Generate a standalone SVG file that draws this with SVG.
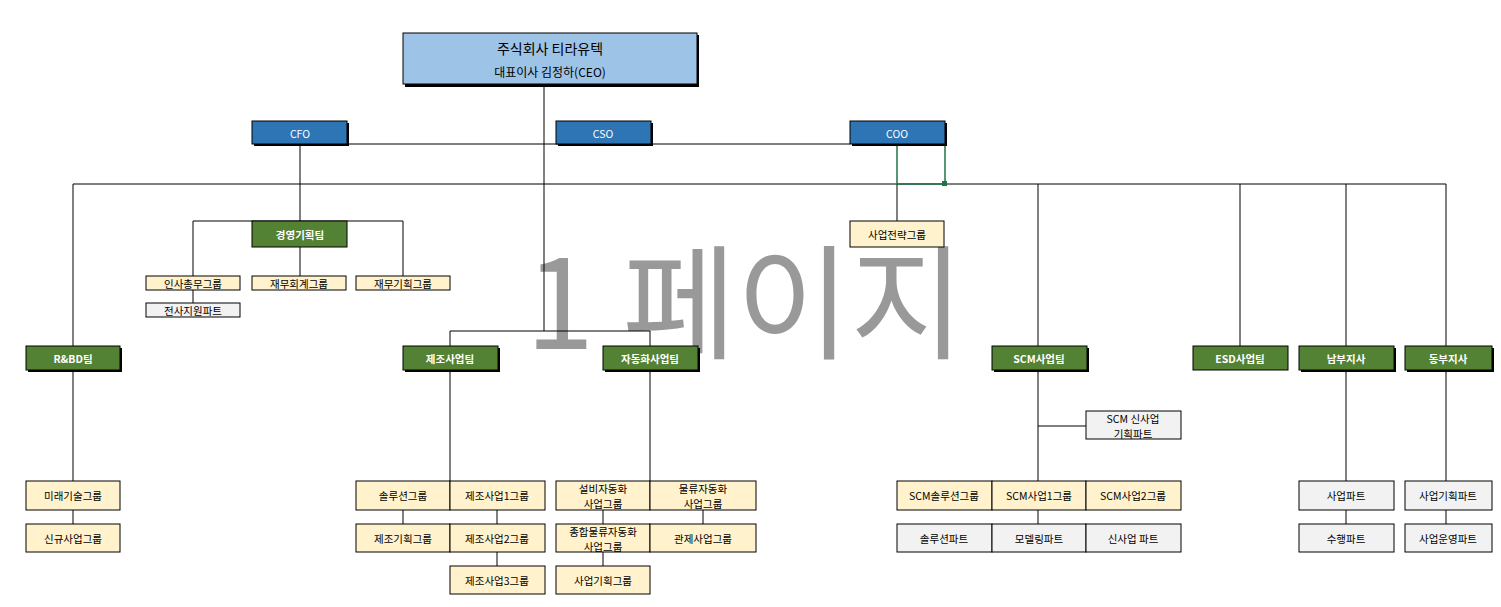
<svg xmlns="http://www.w3.org/2000/svg" width="1501" height="607" viewBox="0 0 1501 607">
<style>
text{font-family:"Noto Sans CJK KR","Noto Sans",sans-serif;text-anchor:middle;dominant-baseline:central}
.sh{fill:#000}
.ceo{fill:#9dc3e6;stroke:#000;stroke-width:1}
.bl{fill:#2e75b6;stroke:#000;stroke-width:1}
.gr{fill:#548235;stroke:#000;stroke-width:1}
.ye{fill:#fff2cc;stroke:#000;stroke-width:1}
.gy{fill:#f2f2f2;stroke:#000;stroke-width:1}
.w{fill:#fff;font-size:10.5px;font-weight:bold}
.k{fill:#000;font-size:10.5px}
.c line{stroke:#000;stroke-width:1}
</style>
<text x="745" y="295" style="font-size:124px;fill:#999999;font-family:'Noto Sans CJK KR',sans-serif">1 페이지</text>
<g class="c" id="connectors">
<line x1="544" y1="85" x2="544" y2="331"/>
<line x1="300" y1="144" x2="850" y2="144"/>
<line x1="300" y1="144" x2="300" y2="221"/>
<line x1="73" y1="184" x2="1446" y2="184"/>
<line x1="897" y1="184" x2="897" y2="221"/>
<line x1="193" y1="221" x2="403" y2="221"/>
<line x1="193" y1="221" x2="193" y2="276"/>
<line x1="403" y1="221" x2="403" y2="276"/>
<line x1="300" y1="247" x2="300" y2="276"/>
<line x1="193" y1="290" x2="193" y2="303"/>
<line x1="73" y1="184" x2="73" y2="346"/>
<line x1="1038" y1="184" x2="1038" y2="346"/>
<line x1="1240" y1="184" x2="1240" y2="346"/>
<line x1="1346" y1="184" x2="1346" y2="346"/>
<line x1="1446" y1="184" x2="1446" y2="346"/>
<line x1="450" y1="331" x2="650" y2="331"/>
<line x1="450" y1="331" x2="450" y2="346"/>
<line x1="650" y1="331" x2="650" y2="346"/>
<line x1="73" y1="370" x2="73" y2="481"/>
<line x1="73" y1="510" x2="73" y2="524"/>
<line x1="450" y1="370" x2="450" y2="481"/>
<line x1="403" y1="510" x2="403" y2="524"/>
<line x1="497" y1="510" x2="497" y2="524"/>
<line x1="497" y1="552" x2="497" y2="566"/>
<line x1="650" y1="370" x2="650" y2="481"/>
<line x1="603" y1="510" x2="603" y2="524"/>
<line x1="703" y1="510" x2="703" y2="524"/>
<line x1="603" y1="552" x2="603" y2="566"/>
<line x1="1038" y1="370" x2="1038" y2="481"/>
<line x1="1038" y1="426" x2="1086" y2="426"/>
<line x1="1038" y1="510" x2="1038" y2="524"/>
<line x1="1346" y1="370" x2="1346" y2="481"/>
<line x1="1346" y1="510" x2="1346" y2="524"/>
<line x1="1446" y1="370" x2="1446" y2="481"/>
<line x1="1446" y1="510" x2="1446" y2="524"/>
</g>
<rect x="897" y="144" width="48" height="40" fill="none" stroke="#217346" stroke-width="1.5"/>
<rect x="942" y="181" width="5" height="5" fill="#217346"/>
<g id="ceo"><rect class="sh" x="405" y="35" width="294" height="52"/><rect class="ceo" x="403" y="33" width="294" height="51"/><text x="550" y="48" style="font-size:14px">주식회사 티라유텍</text><text x="550" y="71" style="font-size:12px">대표이사 김정하(CEO)</text></g>
<g id="cfo"><rect class="sh" x="254" y="123" width="95" height="23"/><rect class="bl" x="252" y="121" width="95" height="23"/><text class="w" x="300" y="133" style="font-weight:normal">CFO</text></g>
<g id="cso"><rect class="sh" x="558" y="123" width="95" height="23"/><rect class="bl" x="556" y="121" width="95" height="23"/><text class="w" x="603" y="133" style="font-weight:normal">CSO</text></g>
<g id="coo"><rect class="sh" x="852" y="123" width="95" height="23"/><rect class="bl" x="850" y="121" width="95" height="23"/><text class="w" x="897" y="133" style="font-weight:normal">COO</text></g>
<g id="mgmt"><rect class="gr" x="252" y="221" width="95" height="26"/><text class="w" x="300" y="234">경영기획팀</text></g>
<g id="strategy"><rect class="ye" x="850" y="221" width="94" height="26"/><text class="k" x="897" y="234">사업전략그룹</text></g>
<g id="hr"><rect class="ye" x="146" y="276" width="94" height="14"/><text class="k" x="193" y="283">인사총무그룹</text></g>
<g id="acct"><rect class="ye" x="252" y="276" width="94" height="14"/><text class="k" x="299" y="283">재무회계그룹</text></g>
<g id="fin"><rect class="ye" x="356" y="276" width="94" height="14"/><text class="k" x="403" y="283">재무기획그룹</text></g>
<g id="support"><rect class="gy" x="146" y="303" width="94" height="14"/><text class="k" x="193" y="310">전사지원파트</text></g>
<g id="rnd"><rect class="sh" x="28" y="348" width="94" height="24"/><rect class="gr" x="26" y="346" width="94" height="24"/><text class="w" x="73" y="358">R&amp;BD팀</text></g>
<g id="mfg"><rect class="sh" x="405" y="348" width="95" height="24"/><rect class="gr" x="403" y="346" width="95" height="24"/><text class="w" x="450" y="358">제조사업팀</text></g>
<g id="auto"><rect class="sh" x="605" y="348" width="95" height="24"/><rect class="gr" x="603" y="346" width="95" height="24"/><text class="w" x="650" y="358">자동화사업팀</text></g>
<g id="scm"><rect class="sh" x="994" y="348" width="95" height="24"/><rect class="gr" x="992" y="346" width="95" height="24"/><text class="w" x="1039" y="358">SCM사업팀</text></g>
<g id="esd"><rect class="gr" x="1193" y="346" width="95" height="24"/><text class="w" x="1240" y="358">ESD사업팀</text></g>
<g id="south"><rect class="sh" x="1301" y="348" width="95" height="24"/><rect class="gr" x="1299" y="346" width="95" height="24"/><text class="w" x="1346" y="358">남부지사</text></g>
<g id="east"><rect class="sh" x="1407" y="348" width="87" height="24"/><rect class="gr" x="1405" y="346" width="87" height="24"/><text class="w" x="1448" y="358">동부지사</text></g>
<g id="future"><rect class="ye" x="26" y="481" width="94" height="29"/><text class="k" x="73" y="495">미래기술그룹</text></g>
<g id="newbiz"><rect class="ye" x="26" y="524" width="94" height="28"/><text class="k" x="73" y="538">신규사업그룹</text></g>
<g id="sol"><rect class="ye" x="356" y="481" width="94" height="29"/><text class="k" x="403" y="495">솔루션그룹</text></g>
<g id="m1"><rect class="ye" x="450" y="481" width="95" height="29"/><text class="k" x="497" y="495">제조사업1그룹</text></g>
<g id="mplan"><rect class="ye" x="356" y="524" width="94" height="28"/><text class="k" x="403" y="538">제조기획그룹</text></g>
<g id="m2"><rect class="ye" x="450" y="524" width="95" height="28"/><text class="k" x="497" y="538">제조사업2그룹</text></g>
<g id="m3"><rect class="ye" x="450" y="566" width="95" height="28"/><text class="k" x="497" y="580">제조사업3그룹</text></g>
<g id="eq"><rect class="ye" x="556" y="481" width="94" height="29"/><text class="k" x="603" y="488">설비자동화</text><text class="k" x="603" y="503">사업그룹</text></g>
<g id="log"><rect class="ye" x="650" y="481" width="106" height="29"/><text class="k" x="703" y="488">물류자동화</text><text class="k" x="703" y="503">사업그룹</text></g>
<g id="total"><rect class="ye" x="556" y="524" width="94" height="28"/><text class="k" x="603" y="531">종합물류자동화</text><text class="k" x="603" y="546">사업그룹</text></g>
<g id="ctrl"><rect class="ye" x="650" y="524" width="106" height="28"/><text class="k" x="703" y="538">관제사업그룹</text></g>
<g id="bplan"><rect class="ye" x="556" y="566" width="94" height="28"/><text class="k" x="603" y="580">사업기획그룹</text></g>
<g id="scmnew"><rect class="gy" x="1086" y="411" width="95" height="28"/><text class="k" x="1133" y="418">SCM 신사업</text><text class="k" x="1133" y="433">기획파트</text></g>
<g id="scmsol"><rect class="ye" x="897" y="481" width="95" height="29"/><text class="k" x="944" y="495">SCM솔루션그룹</text></g>
<g id="scm1"><rect class="ye" x="992" y="481" width="94" height="29"/><text class="k" x="1039" y="495">SCM사업1그룹</text></g>
<g id="scm2"><rect class="ye" x="1086" y="481" width="95" height="29"/><text class="k" x="1133" y="495">SCM사업2그룹</text></g>
<g id="solp"><rect class="gy" x="897" y="524" width="95" height="28"/><text class="k" x="944" y="538">솔루션파트</text></g>
<g id="model"><rect class="gy" x="992" y="524" width="94" height="28"/><text class="k" x="1039" y="538">모델링파트</text></g>
<g id="newp"><rect class="gy" x="1086" y="524" width="95" height="28"/><text class="k" x="1133" y="538">신사업 파트</text></g>
<g id="bizp"><rect class="gy" x="1299" y="481" width="95" height="29"/><text class="k" x="1346" y="495">사업파트</text></g>
<g id="exec"><rect class="gy" x="1299" y="524" width="95" height="28"/><text class="k" x="1346" y="538">수행파트</text></g>
<g id="bplanp"><rect class="gy" x="1405" y="481" width="87" height="29"/><text class="k" x="1448" y="495">사업기획파트</text></g>
<g id="ops"><rect class="gy" x="1405" y="524" width="87" height="28"/><text class="k" x="1448" y="538">사업운영파트</text></g>
</svg>
